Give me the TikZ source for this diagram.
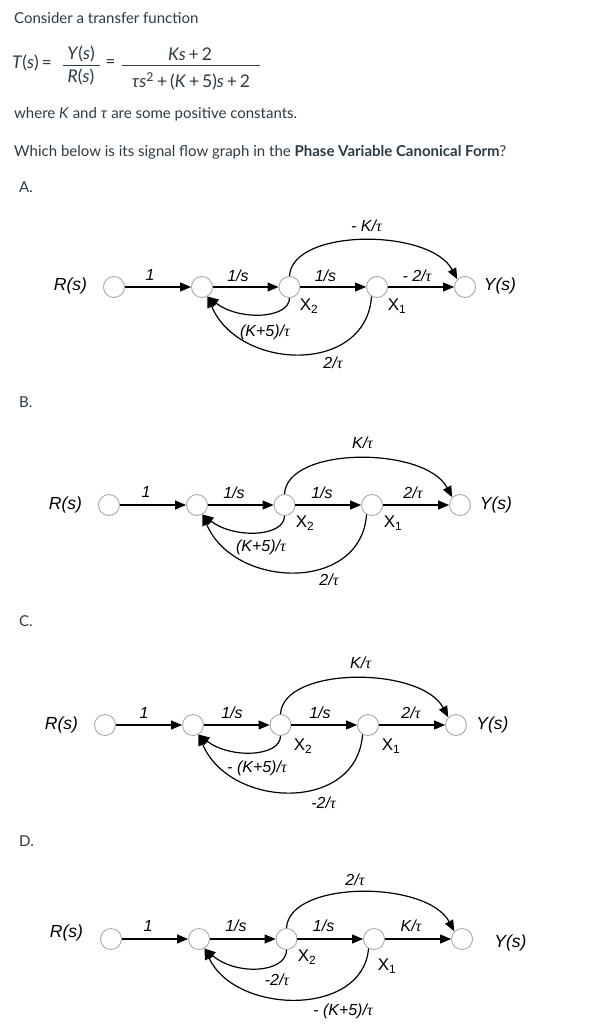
\documentclass[tikz,border=0pt]{standalone}
\usepackage{fontspec}
\setmainfont{Lato}
\newfontfamily\arialf{Liberation Sans}
\newfontfamily\serff{Liberation Serif}
\usetikzlibrary{arrows.meta}
\definecolor{txt}{HTML}{2D3B45}
\definecolor{ring}{HTML}{A8A8A8}
\newcommand\tu{{\serff\itshape τ}}
\newcommand\sfg[5]{%
  \node[sfnode] (#11) at (0,0) {};
  \node[sfnode] (#12) at (88,0) {};
  \node[sfnode] (#13) at (175.5,0) {};
  \node[sfnode] (#14) at (263,0) {};
  \node[sfnode] (#15) at (351,0) {};
  \draw[branch] (#11) -- (#12);
  \draw[branch] (#12) -- (#13);
  \draw[branch] (#13) -- (#14);
  \draw[branch] (#14) -- (#15);
  \draw[branch] (#13.north) .. controls (178,-59) and (316,-59) .. (#15.north west);
  \draw[branch] (#13.south) .. controls (175.5,#2) and (125,#3) .. (#12.-60);
  \draw[branch] (#14.-120) .. controls (252,#4) and (125,#5) .. (#12.-60);
}
\begin{document}
\begin{tikzpicture}[x=1pt,y=-1pt,
  sfnode/.style={circle,draw=ring,line width=0.9pt,minimum size=21pt,inner sep=0pt,fill=white},
  branch/.style={line width=1.2pt,-{Triangle[length=11pt,width=9pt]}},
  gain/.style={font=\arialf\itshape\fontsize{16}{18}\selectfont,inner sep=0pt},
  var/.style={font=\arialf\fontsize{17}{19}\selectfont,inner sep=0pt},
  io/.style={font=\arialf\itshape\fontsize{17.5}{20}\selectfont,inner sep=0pt},
  body/.style={font=\fontsize{15}{18}\selectfont,text=txt,inner sep=0pt,anchor=base west},
  fx/.style={font=\fontsize{17.5}{20}\selectfont,text=txt,inner sep=0pt},
  ]
\fill[white] (0,0) rectangle (609,1024);
\useasboundingbox (0,0) rectangle (609,1024);

% question text
\node[body] (t1) at (14,24) {Consider a transfer function};
\node[fx,anchor=base west] (tf) at (12,69) {\textit{T}(\textit{s})\,=};
\node[fx] (fy) at (81,54) {\textit{Y}(\textit{s})};
\node[fx] (fr) at (81,77) {\textit{R}(\textit{s})};
\draw[txt,line width=0.8pt] (63,65.5) -- (100,65.5);
\node[fx] (eq2) at (110.5,64) {=};
\node[fx] (num) at (190,54) {\textit{Ks}\,+\,2};
\draw[txt,line width=0.8pt] (122,65.5) -- (260,65.5);
\node[fx] (den) at (191,81) {\textit{τs}\textsuperscript{2}\,+\,(\textit{K}\,+\,5)\textit{s}\,+\,2};
\node[body] (t2) at (14,119) {where \textit{K} and \textit{τ} are some positive constants.};
\node[body] (t3) at (14,157) {Which below is its signal flow graph in the \textbf{Phase Variable Canonical Form}?};
\node[body] (la) at (19,193) {A.};
\node[body] (lb) at (19,407.5) {B.};
\node[body] (lc) at (19,626.5) {C.};
\node[body] (ld) at (19,846) {D.};

% A
\begin{scope}[shift={(114,287)}]
  \sfg{a}{32}{34}{88}{84}
  \node[io] (ar) at (-43.5,-1) {R(s)};
  \node[io] (ay) at (386,-1) {Y(s)};
  \node[gain] (ag1) at (36,-12) {1};
  \node[gain] (ag2) at (124,-11) {1/s};
  \node[gain] (ag3) at (211.5,-11) {1/s};
  \node[gain] (ag4) at (303,-11) {- 2/\tu};
  \node[gain] (ag5) at (252.5,-61) {- K/\tu};
  \node[var] (ax2) at (195,19) {X\textsubscript{2}};
  \node[var] (ax1) at (283,19) {X\textsubscript{1}};
  \node[gain] (ag6) at (151,45) {(K+5)/\tu};
  \node[gain] (ag7) at (219,76) {2/\tu};
\end{scope}

% B
\begin{scope}[shift={(109,505)}]
  \sfg{b}{32}{34}{88}{84}
  \node[io] (br) at (-43.5,0) {R(s)};
  \node[io] (by) at (387,0) {Y(s)};
  \node[gain] (bg1) at (37,-13) {1};
  \node[gain] (bg2) at (125,-12) {1/s};
  \node[gain] (bg3) at (213,-12) {1/s};
  \node[gain] (bg4) at (304,-12) {2/\tu};
  \node[gain] (bg5) at (253.5,-62) {K/\tu};
  \node[var] (bx2) at (196,18) {X\textsubscript{2}};
  \node[var] (bx1) at (284,18) {X\textsubscript{1}};
  \node[gain] (bg6) at (152,42) {(K+5)/\tu};
  \node[gain] (bg7) at (220,75) {2/\tu};
\end{scope}

% C
\begin{scope}[shift={(105,725)}]
  \sfg{c}{32}{34}{88}{84}
  \node[io] (cr) at (-43.5,0) {R(s)};
  \node[io] (cy) at (387.5,0) {Y(s)};
  \node[gain] (cg1) at (39,-12) {1};
  \node[gain] (cg2) at (127,-12) {1/s};
  \node[gain] (cg3) at (215,-12) {1/s};
  \node[gain] (cg4) at (306,-12) {2/\tu};
  \node[gain] (cg5) at (255.6,-62) {K/\tu};
  \node[var] (cx2) at (198,21) {X\textsubscript{2}};
  \node[var] (cx1) at (286,21) {X\textsubscript{1}};
  \node[gain] (cg6) at (152,43) {- (K+5)/\tu};
  \node[gain] (cg7) at (218.6,78) {-2/\tu};
\end{scope}

% D
\begin{scope}[shift={(111,939)}]
  \sfg{d}{34}{37}{78}{76}
  \node[io] (dr) at (-44.5,-6) {R(s)};
  \node[io] (dy) at (399.5,4) {Y(s)};
  \node[gain] (dg1) at (37,-13) {1};
  \node[gain] (dg2) at (125,-13) {1/s};
  \node[gain] (dg3) at (212.6,-13) {1/s};
  \node[gain] (dg4) at (300,-13) {K/\tu};
  \node[gain] (dg5) at (244,-59) {2/\tu};
  \node[var] (dx2) at (196,18) {X\textsubscript{2}};
  \node[var] (dx1) at (276,27) {X\textsubscript{1}};
  \node[gain] (dg6) at (166,41) {-2/\tu};
  \node[gain] (dg7) at (232,72) {- (K+5)/\tu};
\end{scope}
\end{tikzpicture}
\end{document}
